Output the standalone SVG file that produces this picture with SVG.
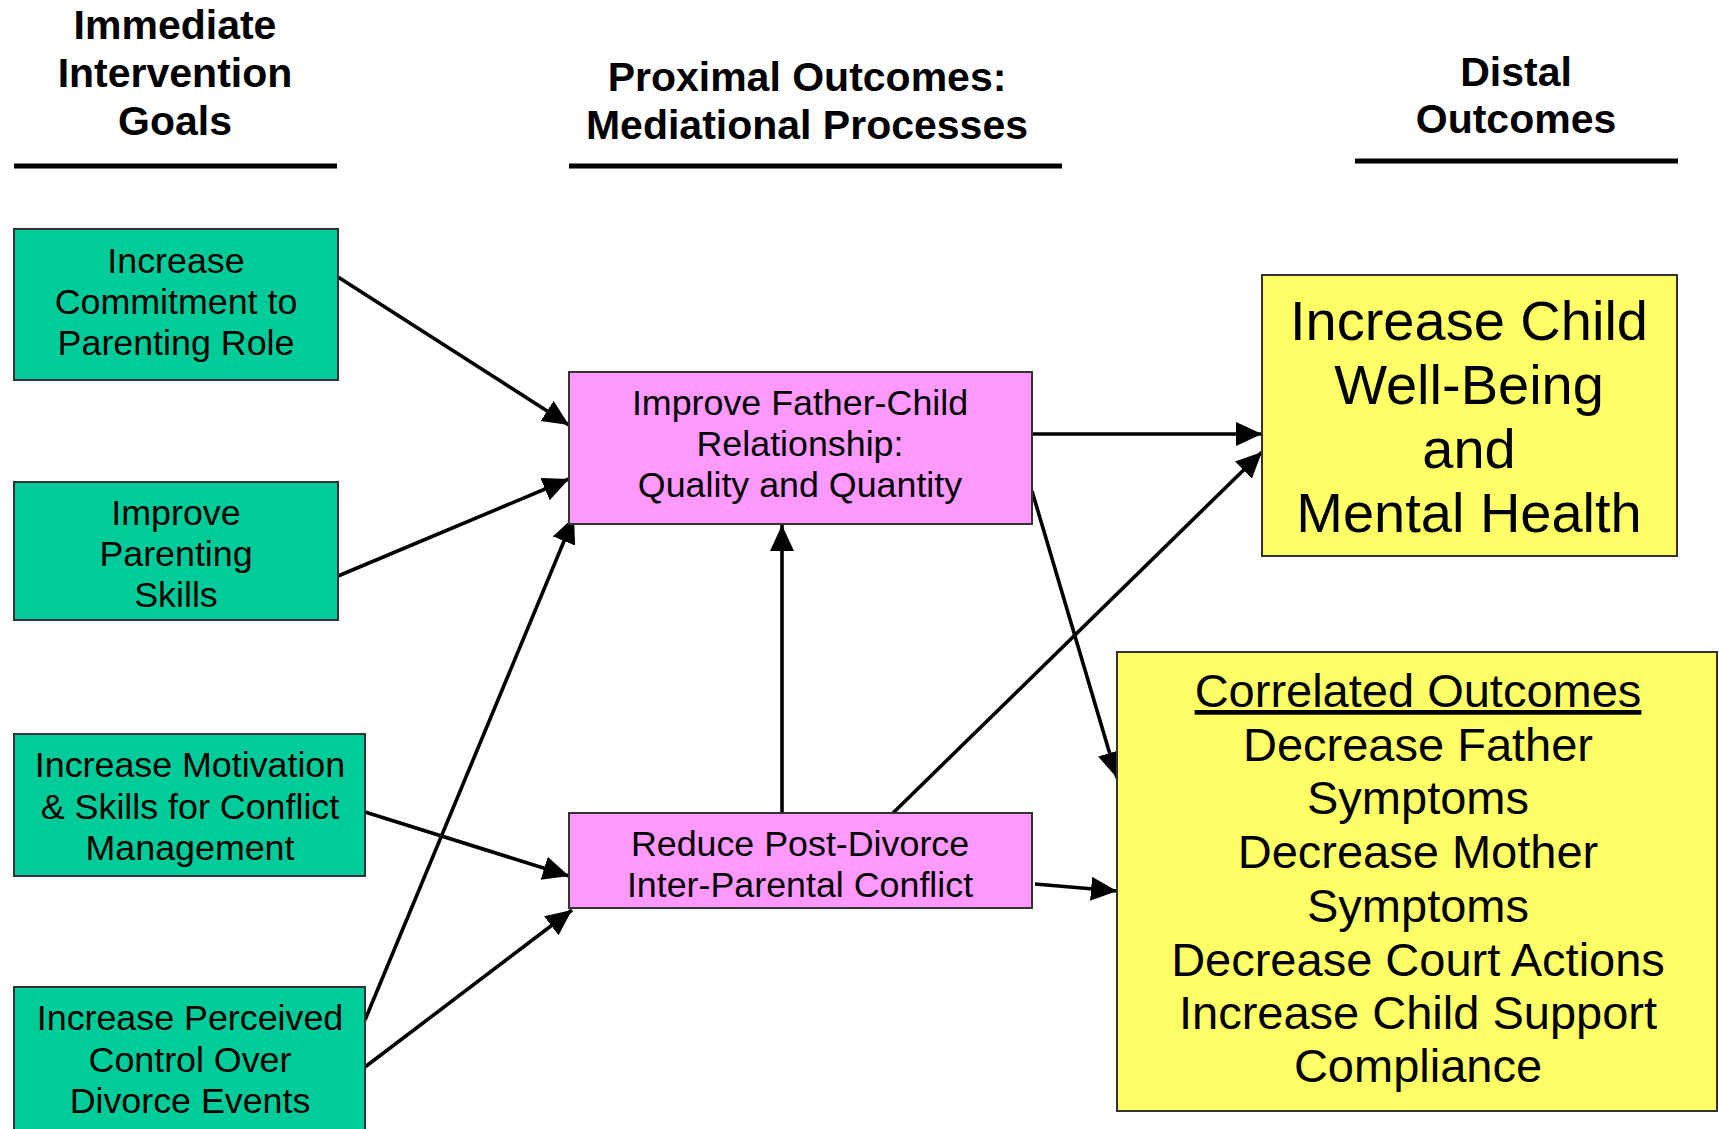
<svg xmlns="http://www.w3.org/2000/svg" width="1719" height="1129" viewBox="0 0 1719 1129">
<style>
.hd{font-family:"Liberation Sans",Arial,sans-serif;font-weight:bold;font-size:41px;fill:#000;text-anchor:middle}
.t{font-family:"Liberation Sans",Arial,sans-serif;font-size:35.8px;fill:#000;text-anchor:middle}
.tb{font-family:"Liberation Sans",Arial,sans-serif;font-size:56px;fill:#000;text-anchor:middle}
.tc{font-family:"Liberation Sans",Arial,sans-serif;font-size:47px;fill:#000;text-anchor:middle}
.g{fill:#00CC99;stroke:#333;stroke-width:2}
.p{fill:#FF99FF;stroke:#333;stroke-width:2}
.y{fill:#FFFF66;stroke:#333;stroke-width:2}
.rule{stroke:#000;stroke-width:5}
.c{stroke:#000;stroke-width:3.6;fill:none;marker-end:url(#ah)}
</style>
<defs>
<marker id="ah" markerUnits="userSpaceOnUse" markerWidth="28" markerHeight="26" refX="26" refY="12" orient="auto">
<path d="M0,0 L26,12 L0,24 z" fill="#000"/>
</marker>
</defs>
<rect width="1719" height="1129" fill="#fff"/>
<g id="headers">
<text class="hd" x="175" y="39">Immediate</text>
<text class="hd" x="175" y="87">Intervention</text>
<text class="hd" x="175" y="135">Goals</text>
<line class="rule" x1="14" y1="166" x2="337" y2="166"/>
<text class="hd" x="807" y="91">Proximal Outcomes:</text>
<text class="hd" x="807" y="139">Mediational Processes</text>
<line class="rule" x1="569" y1="166" x2="1062" y2="166"/>
<text class="hd" x="1516" y="86">Distal</text>
<text class="hd" x="1516" y="133">Outcomes</text>
<line class="rule" x1="1355" y1="161" x2="1678" y2="161"/>
</g>
<g id="connectors">
<line class="c" x1="338" y1="277" x2="569" y2="425"/>
<line class="c" x1="338" y1="576" x2="569" y2="479"/>
<line class="c" x1="365" y1="1020" x2="574" y2="517"/>
<line class="c" x1="365" y1="812" x2="569" y2="876"/>
<line class="c" x1="365" y1="1067" x2="572" y2="910"/>
<line class="c" x1="782" y1="813" x2="782" y2="525"/>
<line class="c" x1="1032" y1="434" x2="1262" y2="434"/>
<line class="c" x1="893" y1="813" x2="1262" y2="452"/>
<line class="c" x1="1032" y1="491" x2="1117" y2="778"/>
<line class="c" x1="1035" y1="884" x2="1117" y2="891"/>
</g>
<g id="goal1">
<rect class="g" x="14" y="229" width="324" height="151"/>
<text class="t" x="176" y="273">Increase</text>
<text class="t" x="176" y="314">Commitment to</text>
<text class="t" x="176" y="355">Parenting Role</text>
</g>
<g id="goal2">
<rect class="g" x="14" y="482" width="324" height="138"/>
<text class="t" x="176" y="525">Improve</text>
<text class="t" x="176" y="566">Parenting</text>
<text class="t" x="176" y="607">Skills</text>
</g>
<g id="goal3">
<rect class="g" x="14" y="734" width="351" height="142"/>
<text class="t" x="190" y="777">Increase Motivation</text>
<text class="t" x="190" y="819">&amp; Skills for Conflict</text>
<text class="t" x="190" y="860">Management</text>
</g>
<g id="goal4">
<rect class="g" x="14" y="987" width="351" height="160"/>
<text class="t" x="190" y="1030">Increase Perceived</text>
<text class="t" x="190" y="1072">Control Over</text>
<text class="t" x="190" y="1113">Divorce Events</text>
</g>
<g id="proximal1">
<rect class="p" x="569" y="372" width="463" height="152"/>
<text class="t" x="800" y="415">Improve Father-Child</text>
<text class="t" x="800" y="456">Relationship:</text>
<text class="t" x="800" y="497">Quality and Quantity</text>
</g>
<g id="proximal2">
<rect class="p" x="569" y="813" width="463" height="95"/>
<text class="t" x="800" y="856">Reduce Post-Divorce</text>
<text class="t" x="800" y="897">Inter-Parental Conflict</text>
</g>
<g id="distal1">
<rect class="y" x="1262" y="275" width="415" height="281"/>
<text class="tb" x="1469" y="340">Increase Child</text>
<text class="tb" x="1469" y="404">Well-Being</text>
<text class="tb" x="1469" y="468">and</text>
<text class="tb" x="1469" y="532">Mental Health</text>
</g>
<g id="distal2">
<rect class="y" x="1117" y="652" width="600" height="459"/>
<text class="tc" x="1418" y="707" text-decoration="underline">Correlated Outcomes</text>
<text class="tc" x="1418" y="761">Decrease Father</text>
<text class="tc" x="1418" y="814">Symptoms</text>
<text class="tc" x="1418" y="868">Decrease Mother</text>
<text class="tc" x="1418" y="922">Symptoms</text>
<text class="tc" x="1418" y="976">Decrease Court Actions</text>
<text class="tc" x="1418" y="1029">Increase Child Support</text>
<text class="tc" x="1418" y="1082">Compliance</text>
</g>
</svg>
